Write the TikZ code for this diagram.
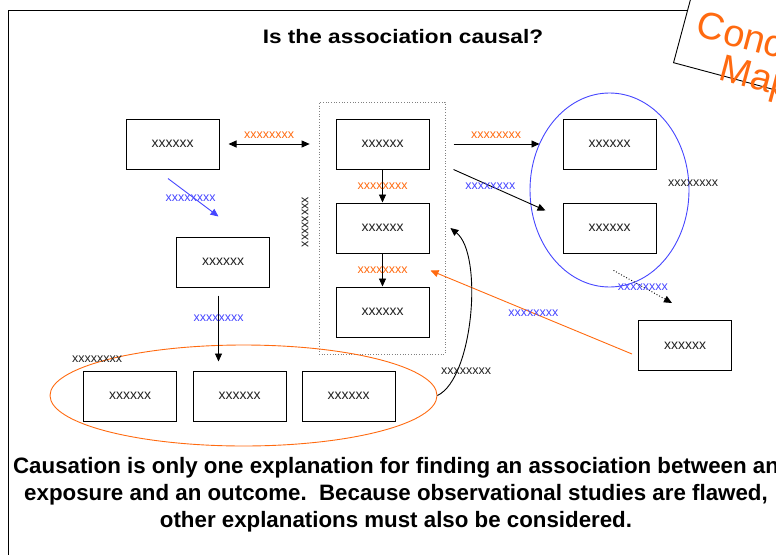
\documentclass[tikz,border=0pt]{standalone}
\usepackage{fontspec}
\setmainfont{Liberation Sans}
\usetikzlibrary{positioning,shapes.geometric,arrows.meta}

\definecolor{linkorange}{HTML}{FF6A10}
\definecolor{linkblue}{HTML}{4646FF}
\definecolor{boxtext}{HTML}{222222}

\begin{document}
\begin{tikzpicture}[
  x=1pt,
  y=-1pt,
  box/.style={draw, line width=1pt, minimum width=93pt, minimum height=50pt, inner sep=0pt,
    text=boxtext, font=\fontsize{14}{16}\selectfont},
  lab/.style={font=\fontsize{12.5}{14}\selectfont, inner sep=1pt},
  olab/.style={lab, text=linkorange},
  blab/.style={lab, text=linkblue},
  klab/.style={lab, text=boxtext},
  arr/.style={-{Triangle[length=8pt,width=7pt]}, line width=0.9pt},
  bidi/.style={{Triangle[length=8pt,width=7pt]}-{Triangle[length=8pt,width=7pt]}, line width=0.9pt}
]

\useasboundingbox (0,0) rectangle (776,554);
\clip (0,0) rectangle (776,554);

\draw[line width=1pt] (8,10) rectangle (820,620);

% Concept Map tab
\node[draw, fill=white, line width=0.9pt, rotate=-15, anchor=south west,
  minimum width=220pt, minimum height=130pt] (tab) at (673,63) {};
\node[rotate=-15, anchor=north west, text=linkorange, align=center, font=\fontsize{38}{36}\selectfont]
  (tabtext) at (699,6) {Concept\\Map};

\node[font=\bfseries\fontsize{19.5}{23}\selectfont] (title) at (403,37) {\scalebox{1.16}[1]{Is the association causal?}};

% left column
\node[box] (boxA) at (172.5,144) {xxxxxx};
\node[box] (boxB) at (223,262) {xxxxxx};

% middle column
\node[draw, gray, dotted, line width=0.7pt, minimum width=126pt, minimum height=252pt] (midFrame) at (382,228) {};
\node[box] (mid1) at (382.5,144) {xxxxxx};
\node[box] (mid2) at (382.5,228) {xxxxxx};
\node[box] (mid3) at (382.5,312) {xxxxxx};
\node[klab, rotate=90] (sideLab) at (305,222) {xxxxxxxx};

% right column
\node[draw, ellipse, linkblue, line width=0.9pt, minimum width=159pt, minimum height=194pt] (blueEll) at (609.5,190) {};
\node[box] (right1) at (609.5,144) {xxxxxx};
\node[box] (right2) at (609.5,228) {xxxxxx};
\node[klab] (ellLab) at (693,183) {xxxxxxxx};
\node[box] (boxR) at (685,345.5) {xxxxxx};

% bottom row
\node[draw, ellipse, linkorange, line width=0.9pt, minimum width=387pt, minimum height=101pt] (orangeEll) at (243.5,395.5) {};
\node[box] (bot1) at (130,396) {xxxxxx};
\node[box] (bot2) at (239.5,396) {xxxxxx};
\node[box] (bot3) at (348.5,396) {xxxxxx};
\node[klab] (botLab) at (97,359) {xxxxxxxx};

% connectors
\draw[bidi, shorten <=9pt, shorten >=9pt] (boxA.east) -- (boxA.east -| midFrame.west)
  node[midway, above=4pt, olab] {xxxxxxxx};
\draw[arr] (mid1) -- node[olab] {xxxxxxxx} (mid2);
\draw[arr] (mid2) -- node[olab] {xxxxxxxx} (mid3);
\draw[arr, shorten <=24pt, shorten >=23pt] (mid1.east) -- (mid1.east -| right1.west)
  node[midway, above=4pt, olab] {xxxxxxxx};
\draw[arr] ([xshift=24pt]mid1.south east) -- node[pos=0.4, blab] {xxxxxxxx} ([xshift=-17pt,yshift=-8pt]right2.north west);
\draw[arr, dotted] ([xshift=4pt,yshift=17pt]blueEll.south) -- node[blab] {xxxxxxxx} ([xshift=-13pt,yshift=17pt]boxR.north);
\draw[arr, linkorange] ([xshift=-6pt,yshift=-8.5pt]boxR.west) -- node[pos=0.49, blab] {xxxxxxxx} ([xshift=1pt,yshift=-17pt]mid2.south east);
\draw[arr, linkblue] ([xshift=-4.5pt,yshift=-9pt]boxA.south) -- node[pos=0.45, below=-2pt, blab] {xxxxxxxx} ([xshift=-4.5pt,yshift=20pt]boxB.north);
\draw[arr] ([xshift=-4.5pt,yshift=-8pt]boxB.south) -- node[pos=0.34, blab] {xxxxxxxx} ([xshift=-4.5pt,yshift=9pt]boxB.south |- bot2.north);
\draw[arr] (orangeEll.east) .. controls +(36,-17) and +(33,26) .. ([xshift=5pt]midFrame.east)
  node[pos=0.22, xshift=9pt, klab] {xxxxxxxx};

\node[align=center, font=\bfseries\fontsize{22.3}{27}\selectfont] (note) at (396,495)
  {Causation is only one explanation for finding an association between an\\
   exposure and an outcome.\ \ Because observational studies are flawed,\\
   other explanations must also be considered.};

\end{tikzpicture}
\end{document}
